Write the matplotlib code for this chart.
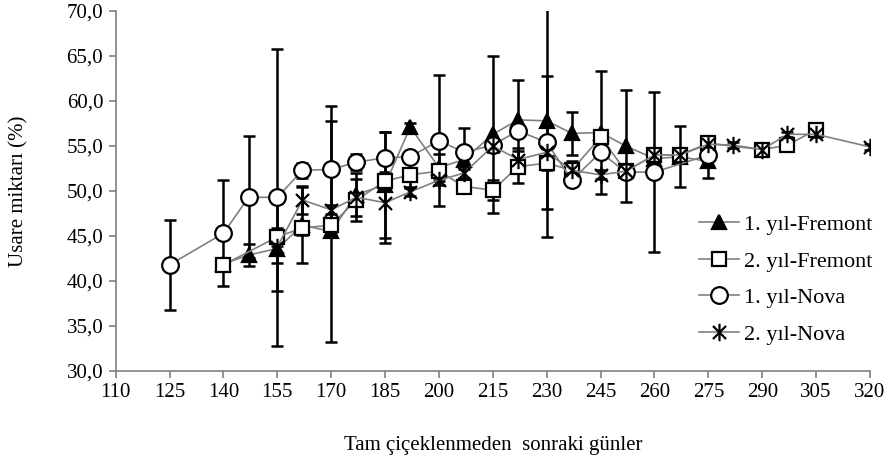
import numpy as np
import matplotlib.pyplot as plt
from matplotlib.path import Path

plt.rcParams['font.family'] = ['Liberation Serif', 'DejaVu Serif']

# --- veriler ---
gun_f1 = [140, 147, 155, 162, 170, 177, 185, 192, 200, 207, 215, 222, 230, 237, 245, 252, 260, 267, 275]
usare_f1 = [41.9, 42.9, 43.6, 46.2, 45.5, 49.6, 50.7, 57.1, 52.6, 53.5, 56.3, 57.9, 57.8, 56.4, 56.5, 55.0, 53.6, 53.8, 53.3]
hata_f1 = [0.7, 1.2, 1.6, 4.2, 12.3, 2.4, 5.9, 0.5, 1.5, 3.5, 8.7, 4.4, 12.9, 2.4, 6.8, 6.2, 0.5, 3.4, 1.9]

gun_f2 = [140, 155, 162, 170, 177, 185, 192, 200, 207, 215, 222, 230, 237, 245, 252, 260, 267, 275, 290, 297, 305]
usare_f2 = [41.8, 44.9, 45.9, 46.2, 49.0, 51.1, 51.8, 52.2, 50.5, 50.1, 52.7, 53.1, 52.3, 56.0, 52.2, 54.0, 54.0, 55.3, 54.6, 55.1, 56.8]
hata_f2 = [0.6, 1.0, 0.8, 0.8, 2.3, 1.0, 1.5, 0.8, 0.5, 1.1, 1.8, 0.8, 1.0, 0.5, 0.5, 0.5, 0.5, 0.3, 0.3, 0.3, 0.3]

gun_n1 = [125, 140, 147, 155, 162, 170, 177, 185, 192, 200, 207, 215, 222, 230, 237, 245, 252, 260, 275]
usare_n1 = [41.8, 45.3, 49.3, 49.3, 52.3, 52.4, 53.2, 53.7, 53.8, 55.6, 54.3, 55.1, 56.7, 55.4, 51.2, 54.3, 52.1, 52.1, 54.0]
hata_n1 = [5.0, 5.9, 6.8, 16.5, 0.8, 7.0, 0.9, 2.9, 0.5, 7.3, 0.6, 0.7, 0.5, 7.4, 0.5, 0.5, 0.5, 8.9, 0.5]

gun_n2 = [155, 162, 170, 177, 185, 192, 200, 207, 215, 222, 230, 237, 245, 252, 260, 267, 275, 282, 290, 297, 305, 320]
usare_n2 = [43.8, 49.0, 47.9, 49.3, 48.7, 49.9, 51.2, 52.0, 55.0, 53.5, 54.3, 52.3, 51.8, 52.2, 54.0, 54.0, 55.2, 55.1, 54.6, 56.3, 56.3, 54.9]
hata_n2 = [4.9, 1.6, 0.5, 0.5, 4.5, 0.5, 0.5, 0.5, 0.7, 1.3, 0.5, 0.5, 0.5, 0.5, 0.5, 0.5, 0.3, 0.3, 0.3, 0.3, 0.3, 0.3]

etiketler = ['1. yıl-Fremont', '2. yıl-Fremont', '1. yıl-Nova', '2. yıl-Nova']

# Excel'deki yildiz isareti: X + dikey cizgi
yildiz = Path([(0, -1), (0, 1), (-0.75, -0.75), (0.75, 0.75), (-0.75, 0.75), (0.75, -0.75)],
              [Path.MOVETO, Path.LINETO, Path.MOVETO, Path.LINETO, Path.MOVETO, Path.LINETO])

seriler = [
    (gun_f1, usare_f1, hata_f1, dict(marker='^', markersize=10, markerfacecolor='black')),
    (gun_f2, usare_f2, hata_f2, dict(marker='s', markersize=9.5, markerfacecolor='white')),
    (gun_n1, usare_n1, hata_n1, dict(marker='o', markersize=12, markerfacecolor='white')),
    (gun_n2, usare_n2, hata_n2, dict(marker=yildiz, markersize=12.5, markerfacecolor='none')),
]

fig = plt.figure(figsize=(8.9, 4.67), dpi=100)
ax = fig.add_axes([0.130, 0.2056, 0.8475, 0.7708])

for x, y, e, stil in seriler:
    ax.errorbar(x, y, yerr=e, fmt='none', ecolor='black', elinewidth=1.8,
                capsize=4, capthick=1.8, zorder=2)

for (x, y, e, stil), ad in zip(seriler, etiketler):
    ax.plot(x, y, color='#808080', linewidth=1.2, markeredgecolor='black',
            markeredgewidth=1.6, label=ad, zorder=3, **stil)

ax.set_xlim(110, 320)
ax.set_ylim(30, 70)
ax.set_xticks(np.arange(110, 321, 15))
ax.set_yticks(np.arange(30, 71, 5))
ax.set_yticklabels([f'{v:.1f}'.replace('.', ',') for v in np.arange(30, 71, 5)])

for s in ['top', 'right']:
    ax.spines[s].set_visible(False)
for s in ['left', 'bottom']:
    ax.spines[s].set_color('#808080')
    ax.spines[s].set_linewidth(1.2)
ax.tick_params(direction='out', length=5, width=1.2, color='#808080', labelsize=15, pad=4)

ax.set_xlabel('Tam çiçeklenmeden  sonraki günler', fontsize=15, labelpad=24)
ax.set_ylabel('Usare miktarı (%)', fontsize=15, labelpad=27)

ax.legend(loc='upper left', bbox_to_anchor=(0.773, 0.435), frameon=False, fontsize=16,
          handlelength=1.8, handletextpad=0.25, labelspacing=0.72, borderpad=0, borderaxespad=0)

plt.savefig('out.png', dpi=100)
